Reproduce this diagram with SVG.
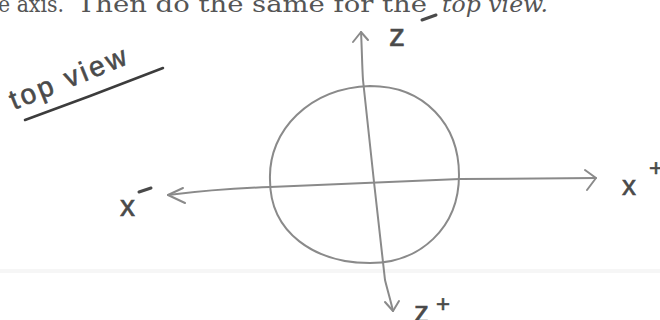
<svg xmlns="http://www.w3.org/2000/svg" width="660" height="320" viewBox="0 0 660 320">
<style>
.ax{fill:none;stroke:#8a8a8a;stroke-width:2;stroke-linecap:round;stroke-linejoin:round}
.ink{fill:none;stroke:#3c3c3c;stroke-width:2.5;stroke-linecap:round}
.hand{font-family:"Liberation Sans",Arial,sans-serif;fill:#4a4a4a;stroke:#4a4a4a;stroke-width:0.6}
.print{font-family:"DejaVu Serif","Liberation Serif",serif;fill:#555;font-size:23px}
.dash{fill:none;stroke:#4a4a4a;stroke-width:3;stroke-linecap:round}
</style>
<rect width="660" height="320" fill="#fff"/>
<rect x="0" y="269" width="660" height="4" fill="#f6f6f6"/>
<g id="caption">
<text class="print" x="-2" y="12" textLength="66" lengthAdjust="spacingAndGlyphs">e axis.</text>
<text class="print" x="77" y="12" textLength="350" lengthAdjust="spacingAndGlyphs">Then do the same for the</text>
<text class="print" x="442" y="12" font-style="italic" textLength="106" lengthAdjust="spacingAndGlyphs">top view.</text>
</g>
<g id="title">
<text class="hand" x="14" y="110" font-size="28" letter-spacing="3" transform="rotate(-22 14 110)" fill="#555" stroke="#555">top view</text>
<path class="ink" d="M25,120 L90,96 L163,68"/>
</g>
<g id="circle">
<path class="ax" d="M270,180 C268,130 310,88 370,86 C425,86 459,125 459,175 C459,228 420,263 370,263 C315,263 270,233 270,180 Z"/>
</g>
<g id="connectors">
<path id="x-axis" class="ax" d="M168,195 C200,191 240,188 270,187 L460,179 L596,178"/>
<path class="ax" d="M183,188 L168,195 L185,203"/>
<path class="ax" d="M585,170 L596,178 L587,190"/>
<path id="z-axis" class="ax" d="M361,32 C362,50 362,65 363,80 L374,182 L385,280 C388,292 391,302 393,311"/>
<path class="ax" d="M353,42 L361,32 L368,40"/>
<path class="ax" d="M385,302 L393,311 L399,301"/>
</g>
<g id="label-z-minus">
<text class="hand" x="389" y="46" font-size="32">z</text>
<path class="dash" d="M422,20 L436,15"/>
</g>
<g id="label-z-plus">
<text class="hand" x="414" y="322" font-size="30">z</text>
<text class="hand" x="436" y="312" font-size="24">+</text>
</g>
<g id="label-x-minus">
<text class="hand" x="120" y="216" font-size="30">x</text>
<path class="dash" d="M139,192 L151,188"/>
</g>
<g id="label-x-plus">
<text class="hand" x="622" y="195" font-size="28">x</text>
<text class="hand" x="649" y="176" font-size="24">+</text>
</g>
</svg>
